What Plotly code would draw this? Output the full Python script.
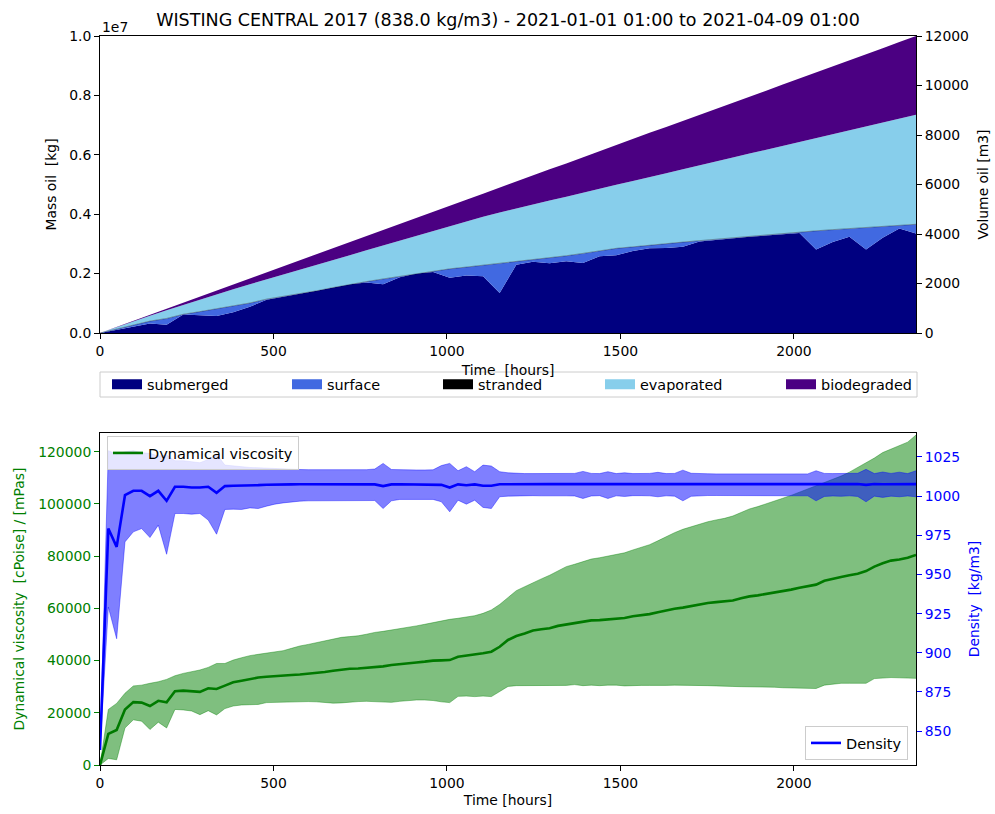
import plotly.graph_objects as go

# ---------------- top panel data (mass in 1e6 kg, every 48 h) ----------------
hours_mass = [48 * i for i in range(50)]
submerged = [0, 0.10, 0.22, 0.32, 0.28, 0.62, 0.60, 0.57, 0.70, 0.88,
             1.12, 1.23, 1.32, 1.42, 1.53, 1.64, 1.70, 1.64, 1.88, 2.00,
             2.05, 1.86, 1.94, 1.91, 1.35, 2.30, 2.40, 2.35, 2.42, 2.36,
             2.58, 2.62, 2.76, 2.85, 2.86, 2.90, 3.08, 3.14, 3.19, 3.24,
             3.28, 3.33, 3.37, 2.81, 3.06, 3.24, 2.81, 3.21, 3.52, 3.35]
surface = [0, 0.03, 0.03, 0.08, 0.21, 0.01, 0.12, 0.24, 0.21, 0.13,
           0.02, 0.00, 0.00, 0.00, 0.00, 0.00, 0.03, 0.18, 0.03, 0.00,
           0.03, 0.30, 0.28, 0.37, 1.00, 0.11, 0.06, 0.17, 0.18, 0.32,
           0.19, 0.23, 0.14, 0.11, 0.15, 0.16, 0.03, 0.02, 0.02, 0.02,
           0.02, 0.02, 0.02, 0.63, 0.42, 0.28, 0.75, 0.39, 0.11, 0.31]
stranded = [0.0] * 50
evaporated = [0, 0.07, 0.14, 0.18, 0.28, 0.32, 0.40, 0.49, 0.56, 0.63,
              0.66, 0.74, 0.81, 0.87, 0.93, 0.98, 1.06, 1.13, 1.20, 1.28,
              1.36, 1.45, 1.54, 1.63, 1.71, 1.79, 1.88, 1.94, 1.99, 2.05,
              2.08, 2.14, 2.22, 2.30, 2.37, 2.45, 2.54, 2.61, 2.70, 2.78,
              2.87, 2.95, 3.04, 3.13, 3.21, 3.30, 3.40, 3.49, 3.59, 3.69]
biodegraded = [0, 0.005, 0.015, 0.03, 0.05, 0.07, 0.10, 0.13, 0.16, 0.20,
               0.24, 0.28, 0.32, 0.36, 0.40, 0.44, 0.48, 0.52, 0.56, 0.60,
               0.64, 0.68, 0.73, 0.78, 0.84, 0.90, 0.97, 1.05, 1.12, 1.19,
               1.27, 1.34, 1.41, 1.48, 1.56, 1.63, 1.70, 1.78, 1.85, 1.92,
               1.99, 2.07, 2.14, 2.21, 2.29, 2.36, 2.43, 2.50, 2.58, 2.65]
oil_density = 838.0

# ---------------- bottom panel data (every 24 h) ----------------
hours = [24 * i for i in range(99)]
visc_mean = [0, 11900, 13400, 21300, 24100, 23900, 22600, 24600, 24000, 28300,
             28500, 28300, 28000, 29400, 29100, 30400, 31700, 32300, 32900, 33500,
             33800, 34100, 34200, 34500, 34700, 35000, 35200, 35600, 36100, 36600,
             36900, 37000, 37200, 37400, 37800, 38300, 38700, 38900, 39300, 39600,
             40000, 40100, 40200, 41500, 41900, 42300, 42800, 43400, 45300, 47900,
             49400, 50400, 51500, 52000, 52400, 53300, 53800, 54300, 54900, 55400,
             55500, 55800, 56100, 56300, 57000, 57300, 57800, 58500, 59300, 59900,
             60300, 60900, 61400, 62100, 62400, 62600, 63000, 63900, 64600, 65000,
             65500, 66000, 66700, 67200, 67900, 68400, 69100, 70600, 71400, 72000,
             72700, 73300, 74300, 76000, 77300, 78300, 78700, 79400, 80500]
visc_lo = [0, 2500, 2000, 14200, 17300, 16800, 13600, 16400, 14200, 21300,
           21100, 20700, 19300, 20800, 19200, 21600, 22600, 23000, 23100, 23200,
           23900, 24000, 24000, 24100, 24200, 24300, 24200, 24000, 23700, 23800,
           24100, 24300, 24400, 24300, 24100, 24000, 24400, 24700, 24900, 24900,
           24700, 24200, 23900, 26300, 26400, 26200, 26400, 26200, 28300, 30100,
           30400, 30400, 30500, 30400, 30600, 30400, 30500, 30800, 30400, 30600,
           30400, 30600, 30600, 30300, 30500, 30500, 30500, 30400, 30500, 30600,
           30600, 30500, 30400, 30400, 30300, 30300, 30100, 30000, 30000, 29900,
           29900, 29800, 29600, 29500, 29600, 29500, 29300, 30600, 31000, 31300,
           31300, 31300, 31300, 33100, 33300, 33500, 33400, 33200, 33200]
visc_hi = [0, 21300, 23600, 27500, 30300, 30600, 31300, 31900, 32800, 34200,
           35100, 35800, 36400, 37400, 38900, 38900, 40200, 41100, 41900, 42400,
           42800, 43200, 43800, 44700, 45600, 46200, 46900, 47600, 48300, 48900,
           49200, 49500, 50100, 50800, 51200, 51700, 52100, 52600, 53300, 53900,
           54500, 55300, 55800, 56200, 56600, 57200, 58100, 59400, 61500, 64200,
           66800, 68300, 69900, 71300, 72700, 74400, 76000, 76900, 77900, 78900,
           79400, 80100, 80800, 81300, 82400, 83400, 84400, 85900, 87500, 89000,
           90300, 91300, 92300, 93200, 93900, 94500, 95400, 96700, 98100, 99000,
           100000, 100900, 102200, 103300, 104500, 105600, 106900, 108200, 109400, 110700,
           112200, 113900, 115600, 117600, 119700, 121100, 122300, 123700, 126400]
dens_mean = [838.0, 979.3, 967.6, 1000.6, 1003.4, 1003.4, 1000.0, 1003.4, 997.0, 1006.0,
             1006.0, 1005.5, 1005.5, 1006.0, 1002.1, 1006.4, 1006.6, 1006.6, 1006.8, 1007.0,
             1007.3, 1007.5, 1007.5, 1007.5, 1007.6, 1007.6, 1007.6, 1007.6, 1007.6, 1007.6,
             1007.6, 1007.6, 1007.6, 1007.5, 1006.4, 1007.5, 1007.6, 1007.6, 1007.6, 1007.6,
             1007.6, 1007.2, 1005.5, 1007.5, 1007.0, 1007.5, 1006.6, 1006.6, 1007.6, 1007.7,
             1007.7, 1007.7, 1007.7, 1007.7, 1007.7, 1007.7, 1007.7, 1007.7, 1007.4, 1007.7,
             1007.7, 1007.6, 1007.7, 1007.7, 1007.7, 1007.7, 1007.7, 1007.6, 1007.7, 1007.7,
             1007.3, 1007.7, 1007.7, 1007.7, 1007.7, 1007.7, 1007.7, 1007.7, 1007.7, 1007.7,
             1007.7, 1007.7, 1007.7, 1007.7, 1007.7, 1007.7, 1007.3, 1007.7, 1007.7, 1007.7,
             1007.7, 1007.7, 1007.2, 1007.7, 1007.6, 1007.7, 1007.6, 1007.7, 1007.7]
dens_lo = [838.0, 929.2, 909.0, 970.8, 977.2, 979.3, 973.6, 981.5, 962.9, 988.9,
           988.9, 988.5, 988.9, 984.7, 975.7, 991.5, 991.7, 991.5, 992.5, 992.1,
           993.6, 994.9, 995.7, 996.4, 996.8, 997.0, 997.0, 997.4, 997.4, 997.4,
           997.4, 997.4, 997.4, 997.2, 992.1, 997.0, 997.9, 997.9, 997.9, 997.9,
           997.9, 996.4, 990.0, 997.4, 994.9, 997.4, 992.8, 992.1, 999.6, 1000.0,
           1000.2, 1000.3, 1000.3, 1000.2, 1000.3, 1000.3, 1000.2, 1000.1, 998.5, 1000.1,
           1000.3, 998.5, 1000.2, 999.8, 1000.3, 1000.3, 1000.2, 999.6, 1000.2, 1000.0,
           997.0, 999.9, 1000.3, 1000.4, 1000.4, 1000.4, 1000.4, 1000.4, 1000.5, 1000.5,
           1000.5, 1000.5, 1000.5, 1000.5, 1000.4, 1000.2, 997.0, 999.8, 1000.1, 999.9,
           1000.2, 999.8, 996.4, 1000.0, 999.2, 1000.0, 999.6, 1000.1, 999.6]
dens_hi = [838.0, 1029.0, 1026.9, 1028.3, 1029.0, 1027.7, 1027.3, 1025.6, 1026.2, 1022.6,
           1022.6, 1022.0, 1021.3, 1023.4, 1026.9, 1019.8, 1019.2, 1018.8, 1018.3, 1018.1,
           1017.8, 1017.5, 1017.2, 1017.0, 1017.0, 1016.9, 1016.9, 1016.9, 1016.9, 1016.8,
           1016.8, 1016.8, 1016.9, 1017.3, 1020.9, 1017.0, 1016.8, 1016.7, 1016.7, 1016.7,
           1016.8, 1019.5, 1020.9, 1016.2, 1018.8, 1015.6, 1019.8, 1019.2, 1015.6, 1014.9,
           1014.5, 1014.4, 1014.4, 1014.5, 1014.4, 1014.4, 1014.4, 1014.5, 1015.8, 1014.5,
           1014.4, 1015.6, 1014.4, 1014.9, 1014.4, 1014.4, 1014.5, 1015.2, 1014.4, 1014.5,
           1016.6, 1014.6, 1014.3, 1014.3, 1014.2, 1014.2, 1014.2, 1014.2, 1014.2, 1014.1,
           1014.1, 1014.1, 1014.1, 1014.1, 1014.1, 1014.2, 1016.2, 1014.5, 1014.4, 1014.5,
           1014.4, 1014.6, 1017.1, 1014.4, 1015.4, 1014.5, 1015.3, 1014.4, 1016.2]

title_text = "WISTING CENTRAL 2017 (838.0 kg/m3) - 2021-01-01 01:00 to 2021-04-09 01:00"
x_ticks = [0, 500, 1000, 1500, 2000]

# ---------------- figure ----------------
W, H = 995, 814
FONT = "DejaVu Sans"
FS = 13.9


def px_x(p):
    return p / W


def px_y(p):
    return 1 - p / H


fig = go.Figure()

components = [
    ("submerged", submerged, "#000080"),
    ("surface", surface, "#4169E1"),
    ("stranded", stranded, "#000000"),
    ("evaporated", evaporated, "#87CEEB"),
    ("biodegraded", biodegraded, "#4B0082"),
]
for name, vals, col in components:
    lw = 0.6 if name == "stranded" else 0
    fig.add_trace(go.Scatter(
        x=hours_mass, y=[v * 1e6 for v in vals], name=name, mode="lines",
        stackgroup="mass", line=dict(width=lw, color="rgba(0,0,0,0.55)" if name == "stranded" else col),
        fillcolor=col, showlegend=False, hoverinfo="skip", xaxis="x", yaxis="y"))

# volume axis companion (invisible)
total_mass = [sum(c[1][i] for c in components) * 1e6 for i in range(len(hours_mass))]
fig.add_trace(go.Scatter(x=hours_mass, y=[m / oil_density for m in total_mass],
                         mode="lines", line=dict(width=0, color="rgba(0,0,0,0)"),
                         showlegend=False, hoverinfo="skip", xaxis="x", yaxis="y2"))

# legend entries for the top panel (one legend per item, positioned like matplotlib)
legend_text_x = [147, 327, 478, 640, 821]
for i, (name, vals, col) in enumerate(components):
    lg = "legend" if i == 0 else f"legend{i + 1}"
    fig.add_trace(go.Scatter(x=[None], y=[None], mode="lines", name=name,
                             line=dict(color=col, width=10), legend=lg,
                             xaxis="x", yaxis="y", hoverinfo="skip"))

# bottom panel: viscosity
GREEN_FILL = "rgba(0,128,0,0.5)"
BLUE_FILL = "rgba(0,0,255,0.5)"
fig.add_trace(go.Scatter(x=hours, y=visc_lo, mode="lines", line=dict(width=0.8, color=GREEN_FILL),
                         showlegend=False, hoverinfo="skip", xaxis="x2", yaxis="y3"))
fig.add_trace(go.Scatter(x=hours, y=visc_hi, mode="lines", line=dict(width=0.8, color=GREEN_FILL),
                         fill="tonexty", fillcolor=GREEN_FILL,
                         showlegend=False, hoverinfo="skip", xaxis="x2", yaxis="y3"))
fig.add_trace(go.Scatter(x=hours, y=visc_mean, mode="lines", name="Dynamical viscosity",
                         line=dict(width=2.6, color="#007a00"), legend="legend6",
                         hoverinfo="skip", xaxis="x2", yaxis="y3"))
# density
fig.add_trace(go.Scatter(x=hours, y=dens_lo, mode="lines", line=dict(width=0.8, color=BLUE_FILL),
                         showlegend=False, hoverinfo="skip", xaxis="x2", yaxis="y4"))
fig.add_trace(go.Scatter(x=hours, y=dens_hi, mode="lines", line=dict(width=0.8, color=BLUE_FILL),
                         fill="tonexty", fillcolor=BLUE_FILL,
                         showlegend=False, hoverinfo="skip", xaxis="x2", yaxis="y4"))
fig.add_trace(go.Scatter(x=hours, y=dens_mean, mode="lines", name="Density",
                         line=dict(width=2.6, color="#0000ff"), legend="legend7",
                         hoverinfo="skip", xaxis="x2", yaxis="y4"))

xdom = [px_x(100), px_x(916)]
top_dom = [px_y(333), px_y(36)]
bot_dom = [px_y(765), px_y(433)]

axis_common = dict(showgrid=False, zeroline=False, showline=True, linecolor="black", linewidth=1,
                   ticks="outside", ticklen=5, tickwidth=1, tickcolor="black",
                   tickfont=dict(family=FONT, size=FS, color="black"))

layout = dict(
    width=W, height=H,
    margin=dict(l=0, r=0, t=0, b=0, autoexpand=False),
    paper_bgcolor="white", plot_bgcolor="white",
    font=dict(family=FONT, size=FS, color="black"),
    title=dict(text=title_text, x=px_x(508), xanchor="center", y=px_y(20), yanchor="middle",
               font=dict(family=FONT, size=17.5, color="black")),
    xaxis=dict(domain=xdom, anchor="y", range=[0, 2352], tickvals=x_ticks, mirror=True,
               title=dict(text="Time\u00a0 [hours]", standoff=7, font=dict(family=FONT, size=FS)),
               **axis_common),
    yaxis=dict(domain=top_dom, anchor="x", range=[0, 1e7],
               tickvals=[0, 2e6, 4e6, 6e6, 8e6, 1e7], ticktext=["0.0", "0.2", "0.4", "0.6", "0.8", "1.0"],
               title=dict(text="Mass oil\u00a0 [kg]", standoff=9, font=dict(family=FONT, size=FS)),
               **axis_common),
    yaxis2=dict(overlaying="y", side="right", anchor="x", range=[0, 12000],
                tickvals=[0, 2000, 4000, 6000, 8000, 10000, 12000], tickformat="d",
                title=dict(text="Volume oil [m3]", standoff=10, font=dict(family=FONT, size=FS)),
                **axis_common),
    xaxis2=dict(domain=xdom, anchor="y3", range=[0, 2352], tickvals=x_ticks, mirror=True,
                title=dict(text="Time [hours]", standoff=5, font=dict(family=FONT, size=FS)),
                **axis_common),
    yaxis3=dict(domain=bot_dom, anchor="x2", range=[0, 127200],
                tickvals=[0, 20000, 40000, 60000, 80000, 100000, 120000], tickformat="d",
                title=dict(text="Dynamical viscosity\u00a0 [cPoise] / [mPas]", standoff=10,
                           font=dict(family=FONT, size=FS, color="#008000")),
                **{**axis_common, "tickcolor": "#008000",
                   "tickfont": dict(family=FONT, size=FS, color="#008000")}),
    yaxis4=dict(overlaying="y3", side="right", anchor="x2", range=[828.4, 1040.3],
                tickvals=[850, 875, 900, 925, 950, 975, 1000, 1025],
                title=dict(text="Density\u00a0 [kg/m3]", standoff=10,
                           font=dict(family=FONT, size=FS, color="#0000ff")),
                **{**axis_common, "tickcolor": "#0000ff",
                   "tickfont": dict(family=FONT, size=FS, color="#0000ff")}),
    annotations=[dict(text="1e7", x=px_x(100), y=px_y(27), xref="paper", yref="paper",
                      xanchor="left", yanchor="middle", showarrow=False,
                      font=dict(family=FONT, size=FS, color="black"))],
    shapes=[dict(type="rect", xref="paper", yref="paper", x0=px_x(100), x1=px_x(917),
                 y0=px_y(397), y1=px_y(372), line=dict(color="#cccccc", width=1),
                 fillcolor="rgba(255,255,255,0.8)", layer="above")],
)

for i, tx in enumerate(legend_text_x):
    key = "legend" if i == 0 else f"legend{i + 1}"
    layout[key] = dict(x=px_x(tx - 40), y=px_y(384.5), xanchor="left", yanchor="middle",
                       orientation="h", bgcolor="rgba(0,0,0,0)", borderwidth=0,
                       font=dict(family=FONT, size=14.4, color="black"))
layout["legend6"] = dict(x=px_x(107), y=px_y(436), xanchor="left", yanchor="top",
                         bgcolor="rgba(255,255,255,0.8)", bordercolor="#cccccc", borderwidth=1,
                         font=dict(family=FONT, size=14.5, color="black"))
layout["legend7"] = dict(x=px_x(908), y=px_y(760), xanchor="right", yanchor="bottom",
                         bgcolor="rgba(255,255,255,0.8)", bordercolor="#cccccc", borderwidth=1,
                         font=dict(family=FONT, size=14.5, color="black"))

fig.update_layout(**layout)
fig.write_html("out.html")
